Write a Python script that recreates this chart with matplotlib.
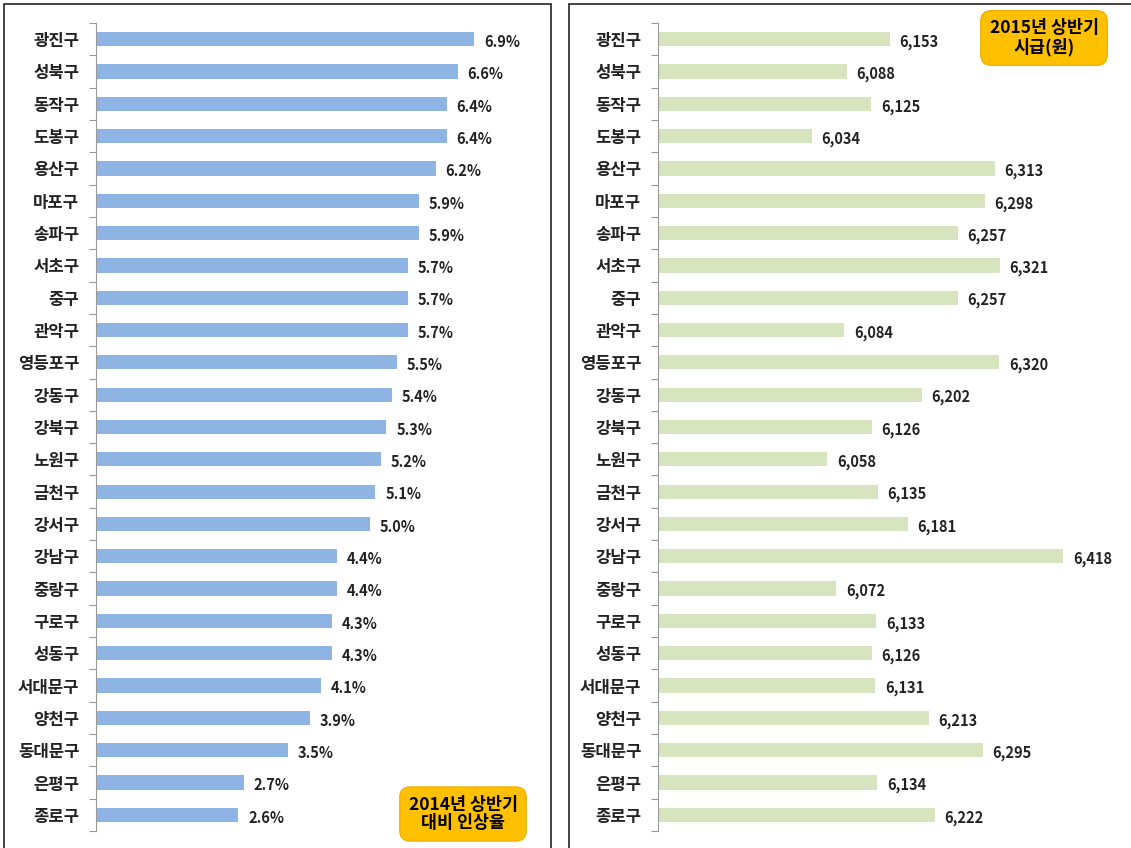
import numpy as np
import matplotlib.pyplot as plt
from matplotlib.patches import Rectangle

plt.rcParams['font.family'] = ['Noto Sans CJK KR', 'DejaVu Sans']

districts = ['광진구', '성북구', '동작구', '도봉구', '용산구', '마포구', '송파구', '서초구',
             '중구', '관악구', '영등포구', '강동구', '강북구', '노원구', '금천구', '강서구',
             '강남구', '중랑구', '구로구', '성동구', '서대문구', '양천구', '동대문구', '은평구', '종로구']
rise_pct = [6.9, 6.6, 6.4, 6.4, 6.2, 5.9, 5.9, 5.7, 5.7, 5.7, 5.5, 5.4, 5.3, 5.2, 5.1, 5.0,
            4.4, 4.4, 4.3, 4.3, 4.1, 3.9, 3.5, 2.7, 2.6]
wage_2015 = [6153, 6088, 6125, 6034, 6313, 6298, 6257, 6321, 6257, 6084, 6320, 6202, 6126,
             6058, 6135, 6181, 6418, 6072, 6133, 6126, 6131, 6213, 6295, 6134, 6222]

W, H = 1131, 848
fig = plt.figure(figsize=(W / 100, H / 100), dpi=100)

# panel frames
for x0, x1 in [(4, 551), (569, 1135)]:
    fig.patches.append(Rectangle((x0 / W, -0.01), (x1 - x0) / W, (H - 4) / H + 0.01,
                                 transform=fig.transFigure, fill=False,
                                 edgecolor='#222222', linewidth=1.2))

y = np.arange(len(districts))
top, bot = 23, 831


def make_ax(left_px, right_px):
    return fig.add_axes([left_px / W, 1 - bot / H, (right_px - left_px) / W, (bot - top) / H])


def style(ax):
    ax.set_ylim(len(districts) - 0.5, -0.5)
    ax.set_yticks(np.arange(len(districts) + 1) - 0.5)
    ax.set_yticklabels([])
    ax.set_yticks(y, minor=True)
    ax.set_yticklabels(districts, minor=True, fontsize=12, fontweight='bold', color='#222222')
    ax.tick_params(axis='y', which='major', length=5, color='#999999')
    ax.tick_params(axis='y', which='minor', length=0, pad=12)
    for s in ['top', 'right', 'bottom']:
        ax.spines[s].set_visible(False)
    ax.spines['left'].set_color('#999999')
    ax.set_xticks([])


box = dict(boxstyle='round,pad=0.5,rounding_size=0.6', fc='#FFC000', ec='#F0B000')

# left: rise rate
ax1 = make_ax(96, 540)
ax1.barh(y, rise_pct, height=0.44, color='#8DB4E2')
ax1.set_xlim(0, (540 - 96) / 54.8)
style(ax1)
for yi, v in zip(y, rise_pct):
    ax1.annotate(f'{v:.1f}%', (v, yi), xytext=(7, -2), textcoords='offset points',
                 va='center', ha='left', fontsize=10.5, fontweight='bold', color='#222222')
fig.text(463 / W, 1 - 814 / H, '2014년 상반기\n대비 인상율', ha='center', va='center',
         fontsize=12.5, fontweight='bold', linespacing=1.05, bbox=box)

# right: hourly wage
ax2 = make_ax(658, 1131)
ax2.barh(y, np.array(wage_2015) - 5800, left=5800, height=0.44, color='#D7E4BD')
ax2.set_xlim(5800, 5800 + (1131 - 658) / 0.656)
style(ax2)
for yi, v in zip(y, wage_2015):
    ax2.annotate(f'{v:,}', (v, yi), xytext=(7, -2), textcoords='offset points',
                 va='center', ha='left', fontsize=10.5, fontweight='bold', color='#222222')
fig.text(1044 / W, 1 - 38 / H, '2015년 상반기\n시급(원)', ha='center', va='center',
         fontsize=12.5, fontweight='bold', linespacing=1.05, bbox=box)

fig.savefig('out.png', dpi=100)
